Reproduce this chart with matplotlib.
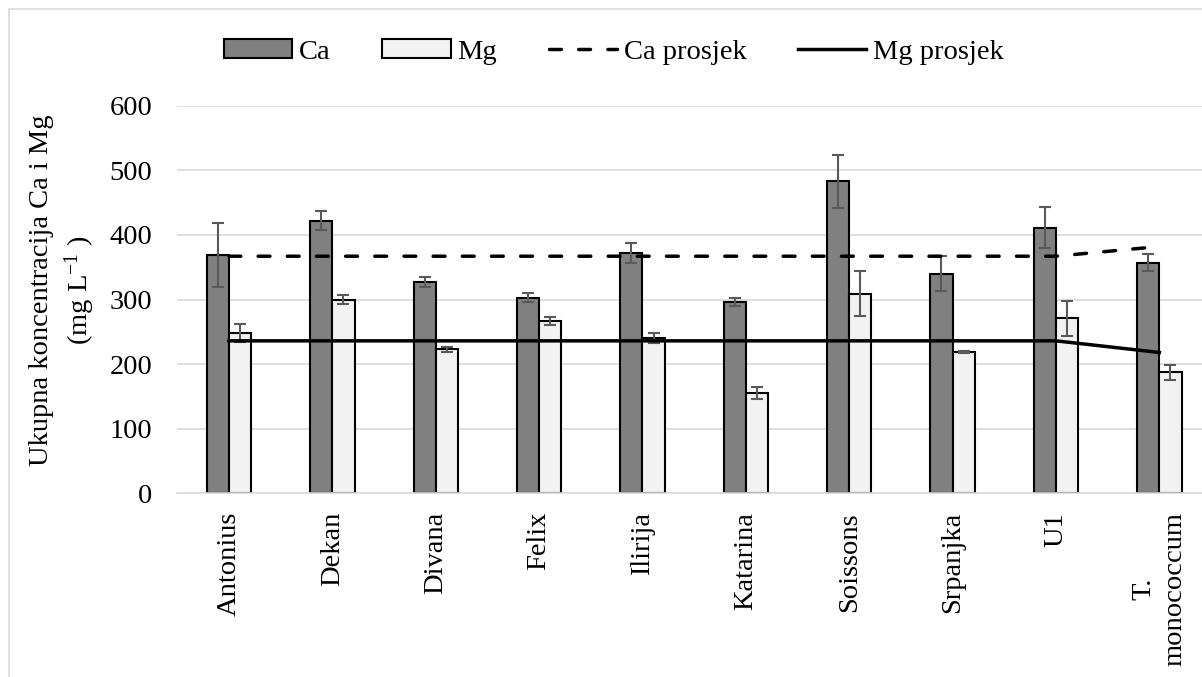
import matplotlib.pyplot as plt
import numpy as np
from matplotlib.patches import Patch, Rectangle
from matplotlib.lines import Line2D

plt.rcParams['font.family'] = ['Liberation Serif', 'DejaVu Serif']
plt.rcParams['mathtext.fontset'] = 'custom'
plt.rcParams['mathtext.rm'] = 'Liberation Serif'
plt.rcParams['mathtext.it'] = 'Liberation Serif:italic'

# data
categories = ['Antonius', 'Dekan', 'Divana', 'Felix', 'Ilirija', 'Katarina',
              'Soissons', 'Srpanjka', 'U1', 'T.\nmonococcum']
ca = [369, 422, 327, 303, 372, 296, 483, 340, 411, 357]
ca_err = [49, 15, 8, 7, 16, 6, 41, 27, 32, 13]
mg = [248, 300, 223, 267, 240, 155, 309, 219, 271, 187]
mg_err = [14, 7, 3.5, 6, 8, 9, 35, 2, 27, 12]
ca_avg = [367, 367, 367, 367, 367, 367, 367, 367, 367, 382]
mg_avg = [236, 236, 236, 236, 236, 236, 236, 236, 236, 218]
yticks = [0, 100, 200, 300, 400, 500, 600]

fs = 20.5
W, H = 1202, 677
fig = plt.figure(figsize=(W / 100, H / 100), dpi=100)

# outer chart border (cropped at right and bottom)
fig.patches.append(Rectangle((9 / W, -0.1), 1.2, 1 - 9 / H + 0.1, transform=fig.transFigure,
                             fill=False, edgecolor='#d9d9d9', linewidth=1.2))

ax = fig.add_axes([177.3 / W, 1 - 493.3 / H, (1211 - 177.3) / W, (493.3 - 105.7) / H])

x = np.arange(len(categories))
bw = 0.215
errkw = dict(ecolor='#595959', elinewidth=1.5, capsize=4.5, capthick=1.5)
ax.bar(x - bw / 2, ca, bw, yerr=ca_err, color='#808080', edgecolor='black',
       linewidth=1.5, error_kw=errkw, zorder=2)
ax.bar(x + bw / 2, mg, bw, yerr=mg_err, color='#f2f2f2', edgecolor='black',
       linewidth=1.5, error_kw=errkw, zorder=2)

dash = (3.4, 5.0)
ax.plot(x, ca_avg, color='black', linewidth=2.5, dashes=dash,
        dash_capstyle='round', zorder=3)
ax.plot(x, mg_avg, color='black', linewidth=2.5, zorder=3)

ax.set_xlim(-0.5, len(categories) - 0.5)
ax.set_ylim(0, 600)
ax.set_yticks(yticks)
ax.set_yticklabels([str(v) for v in yticks], fontsize=fs)
ax.set_xticks(x)
ax.set_xticklabels(categories, rotation=90, fontsize=fs, ha='center', va='top',
                   linespacing=1.35)
ax.tick_params(axis='y', length=0, pad=18)
ax.tick_params(axis='x', length=0, pad=13.5)
ax.grid(axis='y', color='#d9d9d9', linewidth=1.2, zorder=0)
ax.set_axisbelow(True)
for s in ['top', 'right', 'left']:
    ax.spines[s].set_visible(False)
ax.spines['bottom'].set_color('#d9d9d9')
ax.spines['bottom'].set_linewidth(1.2)

fig.text(63 / W, 1 - 290 / H, 'Ukupna koncentracija Ca i Mg\n(mg L$^{-1}$ )',
         rotation=90, ha='center', va='center', multialignment='center',
         fontsize=fs, linespacing=1.3)

handles = [
    Patch(facecolor='#808080', edgecolor='black', linewidth=1.5),
    Patch(facecolor='#f2f2f2', edgecolor='black', linewidth=1.5),
    Line2D([], [], color='black', linewidth=2.5, dashes=dash, dash_capstyle='round'),
    Line2D([], [], color='black', linewidth=2.5),
]
labels = ['Ca', 'Mg', 'Ca prosjek', 'Mg prosjek']
fig.legend(handles, labels, loc='center', bbox_to_anchor=(614 / W, 1 - 52 / H), ncol=4,
           frameon=False, fontsize=fs, handlelength=2.4, handleheight=0.6,
           handletextpad=0.25, columnspacing=1.8, borderaxespad=0)

fig.savefig('out.png', dpi=100)
